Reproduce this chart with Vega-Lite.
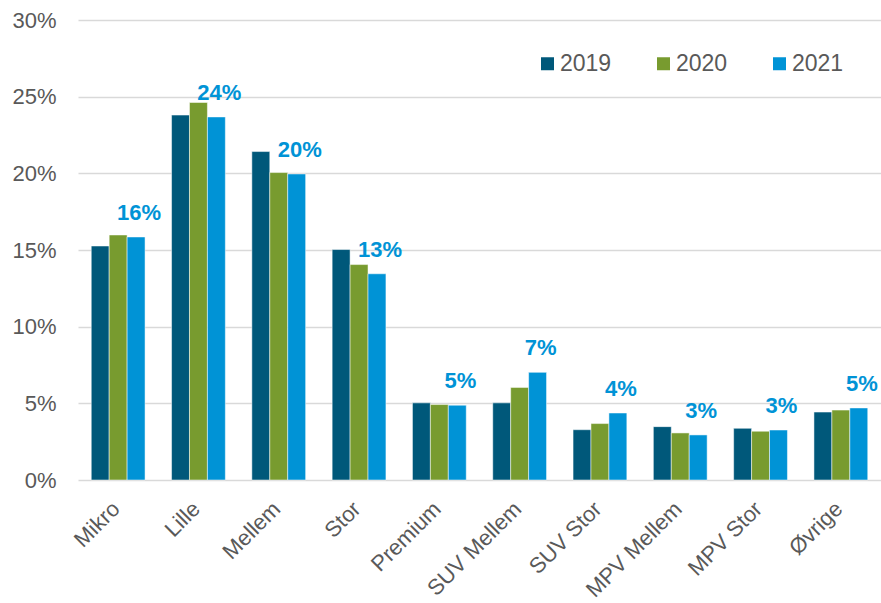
{
  "$schema": "https://vega.github.io/schema/vega-lite/v6.json",
  "width": 803,
  "height": 460,
  "autosize": {"type": "none"},
  "padding": {"left": 78, "top": 20, "right": 0, "bottom": 123},
  "background": "white",
  "config": {
    "font": "Liberation Sans",
    "view": {"stroke": null}
  },
  "data": {
    "values": [
      {"segment": "Mikro", "year": "2019", "share": 0.1526},
      {"segment": "Mikro", "year": "2020", "share": 0.1598},
      {"segment": "Mikro", "year": "2021", "share": 0.1585},
      {"segment": "Lille", "year": "2019", "share": 0.238},
      {"segment": "Lille", "year": "2020", "share": 0.2462},
      {"segment": "Lille", "year": "2021", "share": 0.2368},
      {"segment": "Mellem", "year": "2019", "share": 0.2142},
      {"segment": "Mellem", "year": "2020", "share": 0.2005},
      {"segment": "Mellem", "year": "2021", "share": 0.1996},
      {"segment": "Stor", "year": "2019", "share": 0.1503},
      {"segment": "Stor", "year": "2020", "share": 0.1405},
      {"segment": "Stor", "year": "2021", "share": 0.1345},
      {"segment": "Premium", "year": "2019", "share": 0.0503},
      {"segment": "Premium", "year": "2020", "share": 0.0492},
      {"segment": "Premium", "year": "2021", "share": 0.0488},
      {"segment": "SUV Mellem", "year": "2019", "share": 0.0503},
      {"segment": "SUV Mellem", "year": "2020", "share": 0.0604},
      {"segment": "SUV Mellem", "year": "2021", "share": 0.0702},
      {"segment": "SUV Stor", "year": "2019", "share": 0.0328},
      {"segment": "SUV Stor", "year": "2020", "share": 0.0368},
      {"segment": "SUV Stor", "year": "2021", "share": 0.0437},
      {"segment": "MPV Mellem", "year": "2019", "share": 0.0348},
      {"segment": "MPV Mellem", "year": "2020", "share": 0.0307},
      {"segment": "MPV Mellem", "year": "2021", "share": 0.0294},
      {"segment": "MPV Stor", "year": "2019", "share": 0.0337},
      {"segment": "MPV Stor", "year": "2020", "share": 0.0318},
      {"segment": "MPV Stor", "year": "2021", "share": 0.0326},
      {"segment": "Øvrige", "year": "2019", "share": 0.0443},
      {"segment": "Øvrige", "year": "2020", "share": 0.0456},
      {"segment": "Øvrige", "year": "2021", "share": 0.047}
    ]
  },
  "encoding": {
    "x": {
      "field": "segment",
      "type": "nominal",
      "sort": null,
      "scale": {"paddingInner": 0.33, "paddingOuter": 0.165},
      "axis": {
        "title": null,
        "labelAngle": -45,
        "labelAlign": "right",
        "labelBaseline": "middle",
        "labelFontSize": 22,
        "labelColor": "#595959",
        "labelPadding": 25,
        "labelOffset": -2,
        "ticks": false,
        "domain": false,
        "grid": false
      }
    },
    "xOffset": {"field": "year", "type": "nominal", "scale": {"paddingInner": 0, "paddingOuter": 0}},
    "y": {
      "field": "share",
      "type": "quantitative",
      "scale": {"domain": [0, 0.3], "nice": false},
      "axis": {
        "title": null,
        "format": ".0%",
        "values": [0, 0.05, 0.1, 0.15, 0.2, 0.25, 0.3],
        "labelFontSize": 22,
        "labelColor": "#595959",
        "labelPadding": 22,
        "ticks": false,
        "domain": false,
        "grid": true,
        "gridColor": "#D9D9D9",
        "gridWidth": 1.5
      }
    }
  },
  "layer": [
    {
      "mark": {"type": "bar", "stroke": "white", "strokeWidth": 0.5},
      "encoding": {
        "color": {
          "field": "year",
          "type": "nominal",
          "scale": {"domain": ["2019", "2020", "2021"], "range": ["#00587A", "#789B2F", "#0093D6"]},
          "legend": {
            "title": null,
            "orient": "none",
            "legendX": 458,
            "legendY": 32,
            "direction": "horizontal",
            "symbolType": "square",
            "symbolSize": 169,
            "symbolStrokeWidth": 0,
            "labelFontSize": 23,
            "labelColor": "#595959",
            "labelOffset": 1,
            "columnPadding": 40
          }
        }
      }
    },
    {
      "transform": [{"filter": "datum.year === '2021'"}],
      "mark": {"type": "text", "fontSize": 22, "fontWeight": "bold", "color": "#0093D6", "baseline": "alphabetic", "dy": -17, "dx": 3},
      "encoding": {
        "text": {"field": "share", "type": "quantitative", "format": ".0%"}
      }
    }
  ]
}
